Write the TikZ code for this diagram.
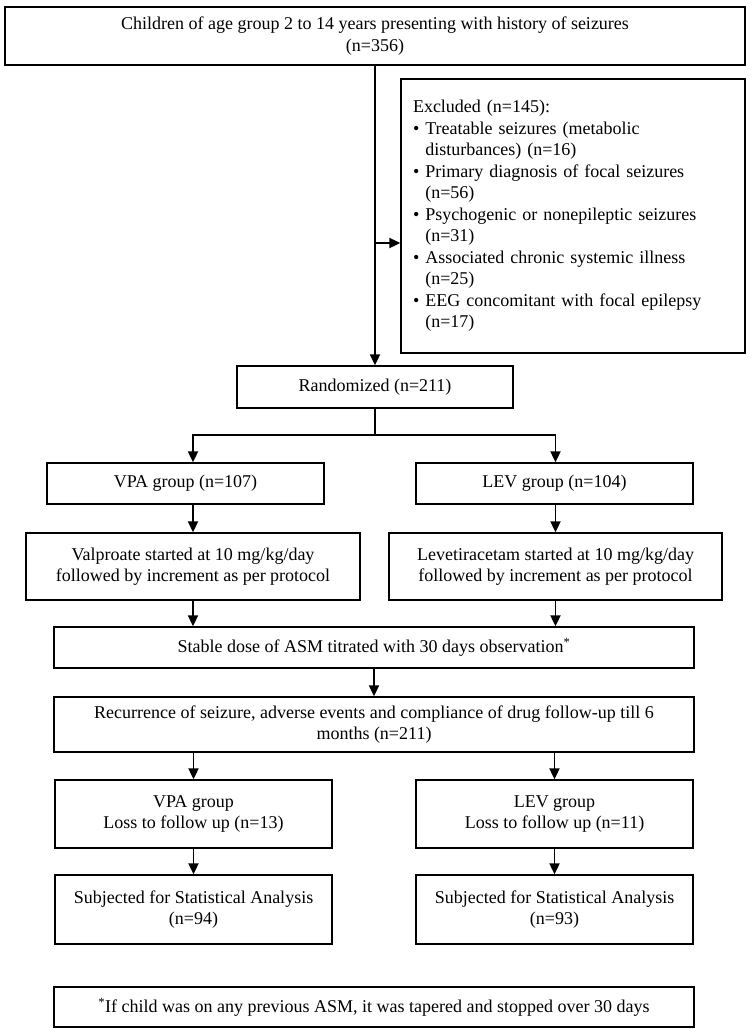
\documentclass[tikz,border=0pt]{standalone}
\usepackage{fontspec}
\setmainfont{Liberation Serif}
\usetikzlibrary{arrows.meta}

\begin{document}
\begin{tikzpicture}
    [x=1pt, y=-1pt,
     every node/.style={font=\fontsize{18}{21.5}\selectfont},
     flowbox/.style={draw, line width=1.3pt, align=center, inner sep=0pt},
     listbox/.style={draw, line width=1.3pt, align=left, inner sep=0pt, text width=320},
     flow/.style={-{Triangle[length=11pt,width=10pt]}, line width=1.8pt}]

    \useasboundingbox (0,0) rectangle (750,1031);

    % enrolment and exclusion
    \node[flowbox, minimum width=740, minimum height=58] (children) at (375,36)
      {Children of age group 2 to 14 years presenting with history of seizures\\(n=356)};
    \node[listbox, minimum width=344, minimum height=274] (exclude) at (573,216)
      {Excluded (n=145):\\
       \textbullet\ Treatable seizures (metabolic\\
       \phantom{\textbullet\ }disturbances) (n=16)\\
       \textbullet\ Primary diagnosis of focal seizures\\
       \phantom{\textbullet\ }(n=56)\\
       \textbullet\ Psychogenic or nonepileptic seizures\\
       \phantom{\textbullet\ }(n=31)\\
       \textbullet\ Associated chronic systemic illness\\
       \phantom{\textbullet\ }(n=25)\\
       \textbullet\ EEG concomitant with focal epilepsy\\
       \phantom{\textbullet\ }(n=17)};
    \node[flowbox, minimum width=276, minimum height=42] (random) at (375,387) {Randomized (n=211)};

    % two arms
    \node[flowbox, minimum width=277, minimum height=41] (vpa) at (185.5,483.5) {VPA group (n=107)};
    \node[flowbox, minimum width=277, minimum height=41] (lev) at (554.5,483.5) {LEV group (n=104)};
    \node[flowbox, minimum width=334, minimum height=67] (valp) at (193,566.5)
      {Valproate started at 10 mg/kg/day\\followed by increment as per protocol};
    \node[flowbox, minimum width=333, minimum height=67] (levet) at (555.5,566.5)
      {Levetiracetam started at 10 mg/kg/day\\followed by increment as per protocol};

    \node[flowbox, minimum width=640, minimum height=41] (stable) at (374,647.5)
      {Stable dose of ASM titrated with 30 days observation\textsuperscript{*}};
    \node[flowbox, minimum width=640, minimum height=55] (recur) at (374,724.5)
      {Recurrence of seizure, adverse events and compliance of drug follow-up till 6\\months (n=211)};

    % follow up
    \node[flowbox, minimum width=277, minimum height=68] (lossvpa) at (193.5,814)
      {VPA group\\Loss to follow up (n=13)};
    \node[flowbox, minimum width=277, minimum height=68] (losslev) at (554.5,814)
      {LEV group\\Loss to follow up (n=11)};
    \node[flowbox, minimum width=277, minimum height=69] (statvpa) at (193.5,909.5)
      {Subjected for Statistical Analysis\\(n=94)};
    \node[flowbox, minimum width=277, minimum height=69] (statlev) at (554.5,909.5)
      {Subjected for Statistical Analysis\\(n=93)};

    \node[flowbox, minimum width=640, minimum height=40] (note) at (374,1007)
      {\textsuperscript{*}If child was on any previous ASM, it was tapered and stopped over 30 days};

    \coordinate (tap) at (375,243);
    \coordinate (split) at (375,435);

    \draw[flow] (children.south) -- (random.north);
    \draw[flow] (tap) -- (tap -| exclude.west);
    \draw[flow] (random.south) -- (split) -| (valp.north |- vpa.north);
    \draw[flow] (split) -| (levet.north |- lev.north);
    \draw[flow] (valp.north |- vpa.south) -- (valp.north);
    \draw[flow] (levet.north |- lev.south) -- (levet.north);
    \draw[flow] (valp.south) -- (valp.south |- stable.north);
    \draw[flow] (levet.south) -- (levet.south |- stable.north);
    \draw[flow] (stable.south) -- (recur.north);
    \draw[flow] (lossvpa.north |- recur.south) -- (lossvpa.north);
    \draw[flow] (losslev.north |- recur.south) -- (losslev.north);
    \draw[flow] (lossvpa.south) -- (statvpa.north);
    \draw[flow] (losslev.south) -- (statlev.north);

  \end{tikzpicture}
\end{document}
